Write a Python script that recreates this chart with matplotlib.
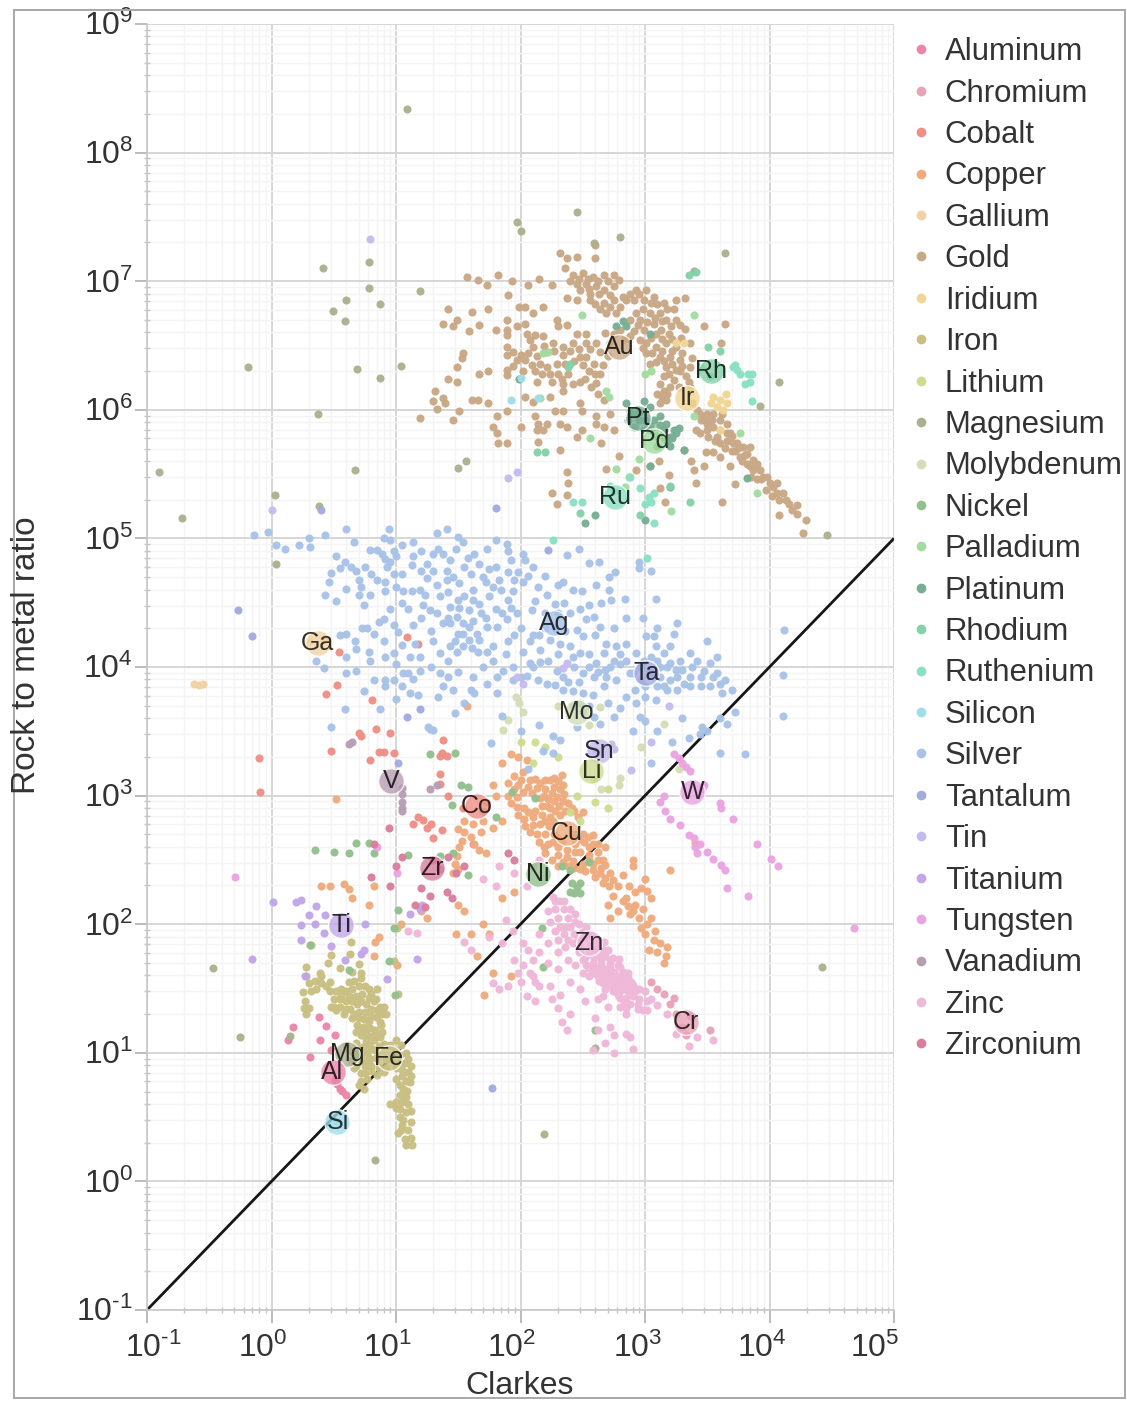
import numpy as np
import matplotlib
matplotlib.use("Agg")
import matplotlib.pyplot as plt
from matplotlib.lines import Line2D
from matplotlib.patches import Rectangle
from matplotlib.ticker import LogLocator, NullFormatter

# All values are log10(Clarkes), log10(rock to metal ratio)
ALUMINUM = [(.38,1.28),(.44,1.21),(.17,1.2),(.13,1.10),(.39,1.10),(.31,.97),(.51,1.14),(.48,1.02),(.51,.79),(.55,.72),(.60,.67),(.53,.76),(.57,.70)]
CHROMIUM = [(3.15,1.46),(3.23,1.43),(3.36,1.29),(3.52,1.18),(3.33,1.14),(3.25,1.30),(3.20,1.38),(3.10,1.50),(3.05,1.55),(3.30,1.20)]
COBALT = [(.54,4.12),(.53,3.86),(.44,3.79),(.81,3.74),(.70,3.49),(.72,3.46),(.84,3.52),(.95,3.49),(.48,3.35),(-.10,3.29),(-.09,3.03),(1.09,4.23),(1.18,4.18),(.79,3.28),(.98,3.33),(.90,3.34),(.86,3.34),(1.35,3.31),(1.38,3.43),(1.22,2.81),(1.25,2.75),(1.37,2.73),(1.30,2.67),(1.35,3.17),(1.35,3.09),(1.41,3.31),(1.37,3.33),(1.54,2.90),(1.18,2.83),(1.14,2.78),(1.28,2.78),(1.42,3.0),(1.62,2.62)]
COPPER = [(1.95,3.15),(2.02,3.18),(2.12,3.13),(2.20,3.12),(2.27,3.14),(2.33,3.16),(1.90,3.10),(1.98,3.08),(2.06,3.07),(2.13,3.06),(2.20,3.05),(2.27,3.07),(2.34,3.08),(1.90,3.00),(1.97,2.99),(2.16,2.98),(2.22,2.97),(2.29,2.99),(2.35,3.01),(1.92,2.94),(1.97,2.91),(2.17,2.92),(2.24,2.90),(2.31,2.92),(2.38,2.94),(2.43,2.88),(2.50,2.87),(1.98,2.85),(2.03,2.82),(2.10,2.83),(2.17,2.85),(2.24,2.83),(2.32,2.85),(2.04,2.76),(2.10,2.77),(2.16,2.78),(2.23,2.76),(2.50,2.70),(2.58,2.69),(2.20,2.70),(2.15,2.64),(2.22,2.62),(2.30,2.60),(2.37,2.58),(2.44,2.62),(2.51,2.64),(2.58,2.62),(2.42,2.70),(2.48,2.56),(2.55,2.54),(2.62,2.56),(2.68,2.60),(2.66,2.50),(2.20,2.55),(2.25,2.50),(2.30,2.54),(2.37,2.52),(2.42,2.49),(2.50,2.47),(2.58,2.47),(2.65,2.44),(2.38,2.45),(2.52,2.41),(2.60,2.37),(2.66,2.32),(2.71,2.30),(2.64,2.40),(1.50,2.74),(1.55,2.72),(1.53,2.65),(1.51,2.60),(1.49,2.53),(1.47,2.47),(1.46,2.40),(1.50,2.43),(1.60,2.68),(1.63,2.62),(1.67,2.58),(1.72,2.55),(1.62,2.78),(1.70,2.80),(1.78,2.75),(1.85,2.80),(1.72,2.95),(1.80,3.0),(1.78,3.08),(1.85,3.25),(1.92,3.32),(1.98,3.30),(2.05,3.28),(.65,2.20),(.62,2.27),(.58,2.31),(.82,2.30),(.78,2.15),(.83,1.86),(.86,1.90),(.82,1.75),(1.01,1.68),(1.20,2.10),(1.25,2.05),(1.50,2.15),(1.55,2.10),(1.48,1.92),(1.60,1.92),(1.70,2.00),(1.75,1.92),(1.65,1.75),(1.71,1.45),(1.78,1.62),(1.92,1.60),(1.85,2.20),(1.95,2.25),(2.70,2.15),(2.72,2.05),(2.78,2.10),(2.78,2.30),(2.85,2.20),(2.82,2.38),(2.90,2.45),(2.87,2.30),(2.92,2.25),(2.97,2.28),(3.02,2.26),(3.05,2.20),(2.92,2.15),(2.88,2.08),(2.95,2.05),(2.97,1.97),(3.02,2.00),(3.05,2.05),(3.07,1.88),(3.12,1.85),(3.03,1.80),(3.15,1.70),(3.18,1.82),(3.20,2.42),(3.40,2.63),(2.90,2.50),(1.04,2.00),(1.57,3.70),(.52,2.97),(.47,2.30),(.40,2.30)]
COPPER_DENSE = [(2.0,3.12),(2.08,3.12),(2.16,3.10),(2.24,3.12),(2.30,3.11),(2.02,3.03),(2.09,3.02),(2.25,3.02),(2.32,3.05),(2.19,3.0),(1.95,3.05),(2.27,2.96),(2.34,2.96),(2.41,2.90),(2.21,2.92),(2.12,2.88),(2.06,2.87),(2.03,2.90),(2.28,2.88),(2.36,2.88),(2.46,2.83),(2.20,2.80),(2.26,2.80),(2.08,2.72),(2.13,2.70),(2.27,2.70),(2.30,2.66),(2.26,2.64),(2.19,2.60),(2.33,2.64),(2.44,2.56),(2.55,2.60),(2.62,2.62),(2.47,2.66),(2.54,2.68),(2.34,2.48),(2.43,2.44),(2.48,2.43),(2.58,2.42),(2.55,2.50),(2.62,2.50),(2.68,2.46),(2.72,2.40),(2.68,2.36),(2.74,2.34),(2.30,2.45),(1.55,2.80),(1.68,2.72),(2.74,2.22),(2.82,2.18),(2.9,2.1),(2.98,2.12),(3.0,1.92),(3.08,1.95),(3.1,1.78),(3.17,1.75),(2.86,2.14),(3.0,2.35)]
GALLIUM = [(-.62,3.87),(-.58,3.86),(-.55,3.87),(.30,4.20),(.42,4.22)]
GOLD = [(2.32,7.22),(2.37,7.18),(2.45,7.19),(2.60,7.28),(2.60,7.18),(2.36,7.10),(2.42,7.05),(2.50,7.06),(2.58,7.03),(2.67,7.05),(2.75,7.05),(2.79,7.01),(2.45,6.98),(2.53,6.98),(2.61,6.96),(2.56,6.90),(2.67,6.93),(2.75,6.96),(2.37,6.87),(2.45,6.85),(2.56,6.85),(2.67,6.83),(2.69,6.75),(2.77,6.75),(2.75,6.85),(2.85,6.85),(2.93,6.93),(3.01,6.93),(2.91,6.85),(2.99,6.85),(3.07,6.88),(3.15,6.83),(3.23,6.78),(3.32,6.87),(3.25,6.85),(2.93,6.75),(3.04,6.75),(3.12,6.75),(3.17,6.70),(3.25,6.70),(2.96,6.70),(2.88,6.70),(3.07,6.67),(2.99,6.62),(2.91,6.61),(3.09,6.59),(3.32,6.63),(3.47,6.65),(3.64,6.67),(3.01,6.52),(3.09,6.49),(3.17,6.52),(3.25,6.49),(3.36,6.52),(2.96,6.54),(2.88,6.57),(3.01,6.44),(3.12,6.41),(3.20,6.41),(3.28,6.39),(3.36,6.33),(3.04,6.36),(3.17,6.33),(3.25,6.31),(3.33,6.26),(3.15,6.26),(3.23,6.23),(3.15,6.15),(3.17,6.08),(3.12,6.05),(3.36,6.18),(3.61,6.52),(1.57,7.03),(1.66,7.01),(1.73,6.97),(1.82,7.05),(1.93,7.0),(2.06,6.97),(2.15,7.02),(2.25,6.97),(1.90,6.89),(1.99,6.80),(2.04,6.80),(2.18,6.80),(2.10,6.75),(1.74,6.78),(1.61,6.76),(1.42,6.78),(1.49,6.70),(1.46,6.65),(1.38,6.67),(1.59,6.61),(1.67,6.66),(1.80,6.62),(1.89,6.70),(1.89,6.62),(1.89,6.58),(1.97,6.65),(2.04,6.67),(2.29,6.70),(2.30,6.65),(2.37,6.66),(2.05,6.59),(2.08,6.54),(2.18,6.57),(2.10,6.49),(1.89,6.49),(1.89,6.43),(1.97,6.39),(2.04,6.39),(2.09,6.35),(2.16,6.36),(2.21,6.33),(2.29,6.36),(2.30,6.28),(1.89,6.31),(1.89,6.27),(1.54,6.44),(1.53,6.40),(1.49,6.33),(1.42,6.24),(1.49,6.22),(1.67,6.28),(1.74,6.30),(1.31,6.15),(1.38,6.09),(1.30,6.07),(1.33,6.01),(1.39,6.05),(1.61,6.08),(1.66,6.08),(1.74,6.05),(1.51,5.99),(1.19,5.94),(1.46,5.92),(1.81,5.95),(1.89,5.99),(2.04,6.10),(2.10,6.06),(2.24,6.10),(2.48,6.22),(2.34,6.20),(2.34,6.15),(2.13,6.22),(2.25,6.22),(2.12,5.95),(2.14,5.89),(2.21,5.89),(2.13,5.84),(2.18,5.84),(2.28,5.99),(2.34,5.99),(2.32,5.89),(2.37,5.87),(2.00,5.87),(1.78,5.87),(1.81,5.82),(1.82,5.74),(1.89,5.74),(2.14,5.75),(2.32,5.69),(2.48,6.05),(2.49,5.99),(2.49,5.84),(2.45,5.79),(2.65,5.74),(2.61,5.95),(2.61,5.89),(2.67,5.87),(2.72,5.97),(2.75,5.84),(2.48,6.41),(2.53,6.41),(2.59,6.36),(2.64,6.28),(2.61,6.21),(2.67,6.08),(2.45,6.59),(2.53,6.59),(2.61,6.52),(2.42,6.52),(2.34,6.49),(2.26,6.52),(2.53,6.52),(2.75,6.59),(2.79,5.64),(2.69,5.54),(2.93,5.53),(3.04,5.56),(3.19,5.49),(3.11,5.60),(2.38,5.43),(2.37,5.52),(2.25,5.35),(2.37,5.34),(2.29,5.27),(3.12,5.39),(3.16,5.28),(3.62,5.28),(4.08,5.18),(4.22,5.19),(4.29,5.14),(4.27,5.04),(3.72,5.42),(3.68,5.56),(3.60,5.63),(3.55,5.67),(3.49,5.67),(3.37,5.60),(3.39,5.53),(3.47,5.56),(3.41,5.43),(3.31,5.69),(3.44,5.97),(3.50,5.97),(3.55,5.97),(3.60,5.92),(3.50,5.89),(3.55,5.87),(3.60,5.84),(3.66,5.89),(3.68,5.82),(3.74,5.74),(3.79,5.71),(3.82,5.66),(3.87,5.61),(3.82,5.58),(3.87,5.53),(3.92,5.53),(3.95,5.48),(4.00,5.43),(4.06,5.43),(4.06,5.35),(4.11,5.35),(4.16,5.27),(4.22,5.26),(3.84,5.71),(3.71,5.74),(3.76,5.63),(3.66,5.76),(3.58,5.79),(3.44,5.82),(3.41,5.84),(3.51,5.79),(3.60,5.74),(3.48,5.92),(3.62,5.97),(3.72,5.68),(3.78,5.60),(3.85,5.48),(3.90,5.46),(3.97,5.38),(4.02,5.33),(3.38,6.05),(3.42,6.00)]
GOLD_DENSE = [(2.40,7.0),(2.47,7.02),(2.54,7.02),(2.62,7.0),(2.70,7.0),(2.48,6.93),(2.55,6.94),(2.63,6.90),(2.72,6.89),(2.60,6.82),(2.64,6.78),(2.72,6.80),(2.80,6.80),(2.82,6.88),(2.88,6.90),(2.95,6.90),(3.05,6.83),(3.10,6.82),(3.18,6.78),(2.98,6.78),(3.08,6.71),(3.14,6.69),(3.21,6.65),(3.28,6.66),(2.94,6.66),(3.02,6.68),(3.13,6.62),(3.19,6.59),(3.05,6.56),(3.14,6.55),(3.22,6.55),(3.29,6.56),(2.98,6.48),(3.06,6.44),(3.14,6.46),(3.22,6.46),(3.30,6.44),(3.09,6.37),(3.15,6.38),(3.22,6.36),(3.30,6.34),(3.38,6.40),(3.19,6.28),(3.28,6.30),(3.35,6.22),(3.12,6.20),(3.20,6.18),(3.27,6.18),(3.10,6.12),(3.18,6.12),(3.14,6.10),(1.94,6.45),(2.00,6.43),(2.06,6.44),(2.13,6.42),(2.20,6.45),(2.27,6.46),(2.34,6.43),(2.40,6.46),(2.47,6.47),(2.56,6.47),(2.64,6.45),(2.70,6.42),(2.50,6.35),(2.43,6.38),(2.36,6.36),(2.55,6.30),(2.60,6.28),(2.66,6.35),(1.94,6.34),(2.02,6.30),(2.12,6.30),(2.17,6.28),(2.24,6.28),(2.38,6.28),(2.33,6.24),(2.42,6.20),(2.52,6.24),(2.57,6.18),(2.62,6.12),(2.19,6.50),(2.12,6.58),(2.72,6.52),(2.68,6.60),(2.80,6.62),(2.84,6.55),(3.45,5.92),(3.54,5.92),(3.66,5.82),(3.70,5.80),(3.75,5.70),(3.80,5.65),(3.84,5.56),(3.90,5.58),(3.93,5.46),(3.98,5.48),(4.03,5.40),(4.08,5.30),(4.13,5.30),(4.18,5.22),(3.5,5.84),(3.56,5.76),(3.64,5.70),(3.70,5.68)]
IRIDIUM = [(3.55,6.10),(3.60,6.08),(3.66,6.05),(3.58,6.02),(3.53,6.05),(3.60,5.84),(3.25,6.52),(3.31,6.52),(3.63,6.00),(3.65,6.12)]
IRON = [(.28,1.60),(.30,1.54),(.25,1.47),(.27,1.40),(.30,1.35),(.35,1.56),(.40,1.60),(.44,1.52),(.47,1.48),(.50,1.42),(.48,1.36),(.52,1.33),(.56,1.50),(.60,1.48),(.65,1.50),(.72,1.58),(.72,1.62),(.68,1.44),(.60,1.40),(.55,1.36),(.58,1.30),(.63,1.34),(.69,1.38),(.73,1.46),(.78,1.43),(.84,1.42),(.87,1.36),(.84,1.28),(.88,1.30),(.80,1.34),(.75,1.32),(.65,1.27),(.69,1.22),(.74,1.20),(.78,1.25),(.83,1.18),(.88,1.22),(.72,1.14),(.76,1.10),(.82,1.10),(.87,1.12),(.72,1.04),(.77,1.00),(.83,1.02),(.60,1.06),(.66,1.00),(.70,.95),(.75,.90),(.68,.90),(.72,.84),(.77,.80),(.70,.75),(.74,.72),(.80,.86),(.86,.88),(.90,.85),(1.00,1.10),(.95,1.06),(1.03,.98),(1.07,.92),(1.10,.85),(1.05,.82),(1.00,.80),(1.11,.77),(1.06,.72),(1.03,.67),(1.08,.66),(.95,.60),(1.00,.57),(1.03,.50),(1.08,.54),(1.12,.55),(1.05,.44),(1.02,.38),(1.07,.33),(1.12,.34),(.32,1.84),(.48,1.76),(.63,1.77),(.45,1.70),(.55,1.66),(.65,1.63),(.28,1.67),(.39,1.62),(.70,1.69),(.98,1.71),(1.02,1.46),(.64,1.86),(1.01,1.97),(.78,.94),(.84,.96),(.92,.95)]
IRON_DENSE = [(.52,1.48),(.56,1.44),(.62,1.55),(.66,1.56),(.70,1.52),(.75,1.52),(.78,1.5),(.80,1.46),(.85,1.50),(.82,1.40),(.90,1.36),(.92,1.30),(.76,1.38),(.72,1.40),(.65,1.40),(.62,1.44),(.55,1.42),(.50,1.36),(.60,1.34),(.70,1.32),(.66,1.30),(.70,1.27),(.74,1.26),(.80,1.29),(.85,1.33),(.87,1.24),(.79,1.19),(.72,1.19),(.68,1.16),(.76,1.15),(.80,1.13),(.84,1.13),(.89,1.16),(.78,1.06),(.74,1.05),(.80,1.04),(.86,1.05),(.90,1.07),(.68,1.08),(.72,.98),(.78,.96),(.74,.94),(.68,.96),(.64,.94),(.62,1.02),(.66,.88),(.72,.78),(.75,.84),(.80,.90),(.85,.83),(.92,.88),(.96,.95),(1.0,1.02),(1.04,1.06),(1.08,1.0),(1.10,.95),(1.12,.90),(1.03,.92),(1.0,.88),(1.05,.87),(1.12,.82),(1.08,.78),(1.03,.75),(1.09,.70),(1.05,.62),(1.0,.62),(1.10,.60),(1.06,.48),(1.12,.46),(1.03,.56),(1.04,.40),(1.10,.40),(1.08,.28),(1.13,.28),(.28,1.30),(.26,1.35),(.32,1.48),(.36,1.50),(.40,1.54),(.47,1.55)]
LITHIUM = [(2.12,3.42),(2.20,3.38),(2.30,3.30),(2.40,2.87),(2.48,2.80),(2.59,3.12),(2.70,3.05),(2.45,3.00),(2.00,3.42),(2.10,3.25),(2.60,2.95),(2.70,2.90)]
MAGNESIUM = [(1.09,8.34),(.41,7.10),(.78,7.15),(.87,6.82),(.60,6.85),(.49,6.77),(.59,6.69),(.78,6.95),(1.19,6.92),(.69,6.32),(.87,6.25),(-.19,6.33),(1.04,6.34),(.37,5.97),(-.90,5.52),(-.72,5.16),(.03,5.34),(.67,5.53),(.38,5.25),(1.97,7.46),(2.0,7.39),(2.45,7.54),(2.59,7.30),(2.80,7.34),(3.64,7.22),(3.39,7.08),(4.08,6.22),(3.92,6.03),(4.46,5.03),(2.19,.37),(2.60,1.04),(.83,.17),(-.25,1.12),(4.42,1.67),(.15,1.13),(-.47,1.66),(1.50,5.55),(1.56,5.60),(.04,4.80)]
MOLYBDENUM = [(1.96,3.77),(2.02,3.65),(1.90,3.59),(1.86,3.51),(2.64,3.69),(2.97,3.38),(3.15,3.56),(3.27,3.21),(2.65,3.05),(2.79,3.08),(2.80,3.14),(2.30,3.70),(2.55,3.55),(1.99,3.72)]
NICKEL = [(.35,2.58),(.50,2.56),(.62,2.55),(.68,2.63),(.78,2.63),(.82,2.55),(1.10,2.54),(1.35,2.53),(1.46,2.55),(1.58,2.38),(1.02,2.11),(.98,1.97),(.94,1.71),(.99,1.45),(.62,1.64),(.31,1.84),(2.33,2.45),(2.40,2.42),(2.45,2.29),(2.41,2.32),(2.48,2.24),(2.43,2.24),(2.17,1.97),(2.18,1.67),(2.60,1.18),(1.45,2.93),(1.58,3.07),(1.52,3.08),(1.27,3.32),(1.47,3.33),(1.93,3.03),(2.12,2.98),(2.45,2.70),(2.55,2.48),(2.48,2.32),(2.40,2.25),(1.70,2.88),(1.80,2.83)]
PALLADIUM = [(2.18,6.44),(2.22,6.45),(2.49,6.74),(2.69,6.15),(2.71,6.10),(2.56,5.78),(3.39,6.74),(3.39,5.95),(3.76,5.82),(3.90,5.35),(3.21,5.21),(3.0,6.28),(2.77,5.54),(2.95,5.62),(3.09,5.87),(2.16,6.09),(2.87,5.48),(2.84,5.40),(3.05,6.30)]
PLATINUM = [(2.85,6.05),(2.91,5.97),(2.99,6.07),(3.04,6.02),(2.91,5.87),(2.99,5.84),(3.12,5.95),(3.17,5.89),(3.23,5.84),(3.20,5.79),(3.25,5.82),(3.15,5.84),(3.07,5.92),(2.77,6.65),(2.85,6.65),(2.82,6.69),(3.04,6.59),(3.31,5.69),(3.82,5.47),(3.04,5.56),(3.20,5.40),(3.0,5.14),(2.60,5.18),(2.52,5.12),(1.99,6.24),(3.18,5.76),(2.95,5.92),(3.09,5.80),(2.88,5.98),(2.95,5.98),(3.0,5.92),(3.04,5.88),(3.05,5.84),(3.12,5.88),(3.15,5.78),(3.22,5.78),(3.27,5.86),(2.86,5.92),(3.10,5.72),(3.2,5.72)]
RHODIUM = [(3.41,7.07),(3.35,7.05),(3.51,6.49),(3.60,6.46),(3.52,6.26),(3.45,6.33),(2.40,6.36),(2.38,6.33),(2.13,5.67),(2.20,5.67),(3.20,5.41),(3.36,5.28),(2.96,5.18),(2.48,5.20)]
RUTHENIUM = [(3.71,6.33),(3.74,6.31),(3.83,6.28),(3.84,6.22),(3.86,6.28),(3.72,6.35),(3.76,6.28),(3.86,6.07),(2.42,5.28),(2.49,5.28),(2.88,5.48),(3.03,5.32),(3.05,5.28),(3.07,5.35),(2.75,5.37),(2.72,5.41),(2.96,5.39),(3.07,5.12),(2.26,4.99),(3.80,6.20),(3.00,5.27),(3.02,4.85)]
SILICON = [(1.92,6.08),(2.14,6.09),(2.00,6.25),(.53,.46)]
SILVER = [(-.14,5.03),(-.03,5.05),(.04,4.95),(.11,4.92),(.22,4.95),(.30,5.0),(.31,4.93),(.43,5.03),(.60,5.07),(.66,4.97),(.94,5.07),(.95,4.99),(.85,4.91),(.79,4.91),(.89,4.88),(.90,5.0),(1.14,4.97),(1.33,5.04),(1.41,5.07),(1.50,5.01),(1.54,4.97),(1.80,4.99),(1.89,4.96),(1.90,4.90),(2.02,4.88),(2.04,4.83),(1.92,4.83),(1.73,4.92),(1.63,4.88),(1.34,4.92),(1.38,4.88),(1.43,4.83),(1.41,4.75),(1.46,4.70),(1.41,4.68),(1.51,4.65),(1.30,4.88),(1.14,4.86),(1.13,4.79),(1.0,4.86),(.95,4.82),(.91,4.84),(.93,4.78),(.52,4.86),(.59,4.82),(.55,4.77),(.64,4.78),(.68,4.75),(.48,4.73),(.46,4.66),(.60,4.61),(.43,4.56),(.52,4.51),(.70,4.56),(.79,4.56),(.74,4.48),(.91,4.66),(.91,4.59),(1.06,4.59),(1.13,4.59),(1.19,4.6),(1.23,4.56),(1.25,4.69),(1.33,4.64),(1.27,4.44),(1.33,4.42),(1.43,4.47),(1.51,4.46),(1.59,4.44),(1.67,4.49),(1.75,4.55),(1.84,4.6),(1.94,4.59),(2.02,4.66),(2.06,4.71),(1.98,4.74),(2.2,4.71),(2.3,4.64),(2.34,4.66),(2.37,4.87),(2.47,4.92),(2.42,4.6),(2.49,4.59),(2.55,4.81),(2.63,4.82),(2.71,4.7),(2.76,4.74),(2.61,4.64),(2.71,4.6),(2.73,4.52),(2.84,4.53),(2.95,4.82),(2.95,4.77),(3.05,4.75),(3.09,4.53),(2.21,4.56),(2.28,4.49),(2.12,4.51),(2.09,4.44),(1.9,4.52),(1.92,4.46),(1.97,4.42),(1.89,4.37),(1.81,4.31),(1.73,4.31),(1.38,4.34),(1.43,4.34),(1.49,4.39),(1.54,4.34),(1.59,4.31),(1.65,4.26),(1.54,4.26),(1.59,4.21),(1.67,4.21),(1.78,4.16),(1.73,4.12),(1.61,4.15),(1.43,4.16),(1.35,4.11),(1.49,4.12),(1.42,4.05),(1.7,4.0),(1.81,3.92),(1.73,3.87),(1.6,3.82),(1.42,3.92),(1.38,3.85),(1.46,3.82),(1.34,3.77),(1.63,3.8),(1.81,3.8),(1.47,3.64),(.6,4.26),(.55,4.25),(.67,4.2),(.68,4.14),(.78,4.12),(.79,4.05),(.86,4.35),(.9,4.37),(.82,4.26),(.9,4.2),(1.02,4.27),(1.14,4.33),(1.05,4.17),(.91,4.08),(.98,4.11),(1.11,4.08),(1.19,4.08),(1,4.02),(1.06,3.95),(1.19,3.97),(1.14,3.91),(1.05,3.85),(1.11,3.8),(1.18,3.78),(.91,3.9),(.91,3.85),(.82,3.9),(.68,3.97),(.36,4.05),(.42,3.99),(.74,3.81),(.59,3.67),(.48,3.53),(.87,3.67),(1.27,3.52),(1.3,3.51),(1.26,3.53),(1.86,3.97),(1.94,4),(2,3.92),(2.08,4.03),(2.16,4.04),(2.21,3.87),(2.29,3.97),(2.34,3.92),(2.43,4),(2.5,3.95),(2.48,4.11),(2.4,4.16),(2.32,4.18),(2.24,4.21),(2.16,4.13),(2.02,4.12),(2.45,4.29),(2.53,4.37),(2.5,4.24),(2.59,4.39),(2.64,4.31),(2.69,4.18),(2.77,4.16),(2.85,4.18),(2.67,4.11),(2.75,4.05),(2.61,4.03),(2.59,3.92),(2.69,3.92),(2.77,3.9),(2.93,4.11),(2.99,4.05),(3.01,4.24),(3.07,4.24),(3.09,4.16),(3.15,4.11),(3.04,3.97),(3.12,3.92),(3.2,3.9),(3.26,3.92),(3.31,3.87),(3.36,3.92),(3.28,4.05),(3.36,4.11),(3.42,4.05),(3.47,3.97),(3.55,3.92),(3.6,3.87),(3.52,4.03),(3.58,4.08),(3.5,4.2),(3.2,4.16),(3.23,4.26),(3.26,4.34),(3.15,3.85),(3.26,3.82),(3.36,3.85),(2.93,3.72),(2.96,3.61),(3,3.58),(3.09,3.74),(2.85,3.77),(2.75,3.61),(2.59,3.61),(2.5,3.65),(2.45,3.53),(2.64,3.56),(2.34,3.82),(2.42,3.81),(2.5,3.8),(2.26,3.46),(2.32,3.43),(2.18,3.35),(2.26,3.33),(2.06,3.21),(1.76,3.41),(3.44,3.48),(3.46,3.53),(3.3,3.6),(3.6,3.6),(3.66,3.56),(3.72,3.65),(3.6,3.33),(3.22,3.42),(3.05,3.25),(4.11,3.94),(4.11,3.62),(3.8,3.32),(4.12,4.29),(.72,4.62),(.98,4.72),(1.05,4.50),(1.22,4.48),(1.70,4.70),(1.62,4.60),(1.80,4.78),(2.10,4.25),(2.2,4.3),(1.95,4.25),(2.68,3.98),(2.55,4.1),(2.8,4.02),(2.9,3.95),(3.0,3.85),(3.12,4.0),(3.2,4.03),(3.45,3.85),(1.3,4.75),(1.55,4.55)]
SILVER_DENSE = [(.98,4.9),(1.05,4.95),(1.2,4.9),(1.25,4.80),(1.48,4.92),(1.58,4.85),(1.67,4.80),(1.75,4.76),(1.83,4.68),(1.9,4.74),(1.95,4.68),(2.1,4.78),(1.55,4.78),(1.6,4.72),(1.72,4.66),(1.78,4.62),(1.42,4.58),(1.5,4.52),(1.62,4.52),(1.68,4.42),(1.8,4.45),(1.85,4.42),(1.72,4.38),(1.62,4.36),(1.5,4.26),(1.47,4.2),(1.54,4.16),(1.66,4.12),(1.78,4.05),(1.88,4.1),(1.9,4.2),(2.0,4.3),(2.08,4.2),(2.15,4.25),(2.28,4.3),(2.36,4.28),(2.3,4.1),(2.42,4.08),(2.22,4.05),(2.1,4.0),(1.94,3.9),(2.05,3.93),(2.14,3.9),(2.28,3.86),(2.38,3.88),(2.47,3.88),(2.55,4.0),(2.62,3.96),(2.72,4.0),(2.8,4.1),(2.85,4.05),(2.88,3.95),(2.95,4.0),(3.05,4.08),(3.1,4.05),(3.18,4.0),(3.25,3.98),(3.3,3.98),(3.38,4.0),(3.45,3.92),(3.52,3.85),(3.58,3.95),(3.64,3.9),(3.62,3.8),(3.7,3.82),(3.1,3.85),(3.18,3.82),(2.96,3.9),(2.92,3.82),(3.0,3.77),(2.67,3.85),(2.58,3.78),(2.7,3.72),(2.8,3.68),(2.55,3.7),(2.48,3.72),(2.42,3.7),(2.75,4.3),(2.85,4.38),(2.98,4.38),(3.1,4.3),(2.6,4.25),(2.55,4.48),(2.65,4.5),(2.48,4.45),(2.4,4.42),(2.3,4.42),(2.2,4.42),(2.35,4.5),(2.14,4.62),(1.05,4.72),(1.0,4.62),(.8,4.72),(.7,4.68),(.75,4.78),(.85,4.68),(1.2,4.75),(1.35,4.55),(1.42,4.38),(1.1,4.45),(.95,4.45),(1.2,4.38),(1.28,4.28),(1.15,4.18),(1.3,4.2),(.98,4.33),(1.35,3.95),(1.5,3.96),(1.28,4.0),(1.62,3.92),(1.55,3.72),(1.85,3.62),(2.0,3.5),(2.15,3.55),(.98,3.9),(1.1,3.95),(1.0,3.75),(.6,3.95),(.73,4.3),(.77,4.3),(.6,4.08),(2.9,3.5),(3.1,3.5),(3.35,3.45),(3.5,3.5)]
TANTALUM = [(2.22,4.91),(1.19,3.67),(1.09,3.61),(-.27,4.44),(-.16,4.24),(1.77,.73),(.40,5.22),(1.8,5.24),(1.02,3.25),(3.05,3.95)]
TIN = [(2.73,3.40),(2.75,3.36),(2.89,3.20),(3.05,3.42),(2.37,4.03),(2.34,3.99),(1.97,3.92),(2.02,3.87),(3.19,3.70),(.79,7.33),(2.61,3.35),(1.90,5.47),(1.97,5.52),(.0,5.22)]
TITANIUM = [(.015,2.17),(.2,2.17),(.24,2.19),(.36,2.14),(.30,2.07),(.43,2.07),(.35,2.0),(.24,1.99),(.42,1.93),(.24,1.88),(.48,1.83),(.72,1.77),(.59,1.72),(.27,1.6),(-.16,1.73),(.93,1.57),(.75,2.0),(1.21,2.15),(1.11,2.08),(1.17,1.73),(.74,1.8),(1.19,2.12)]
TUNGSTEN = [(3.23,3.32),(3.27,3.29),(3.30,3.25),(3.33,3.22),(3.36,3.19),(3.47,3.08),(3.46,3.05),(3.60,2.94),(3.61,2.90),(3.71,2.82),(3.16,2.88),(3.20,2.82),(3.28,2.77),(3.35,2.69),(3.39,2.67),(3.44,2.62),(3.50,2.56),(3.55,2.51),(3.61,2.46),(3.64,2.42),(3.90,2.62),(4.01,2.51),(4.07,2.45),(3.83,2.22),(3.66,2.28),(3.15,3.0),(3.12,2.95),(3.40,2.60),(-.29,2.37),(4.68,1.97),(3.42,2.55),(.85,2.60),(1.01,2.40)]
VANADIUM = [(1.05,3.06),(1.05,3.01),(1.05,2.95),(1.05,2.90),(1.05,2.88),(1.27,3.05),(1.33,3.08),(.62,3.40),(.65,3.42)]
ZINC = [(2.26,2.21),(2.32,2.18),(2.35,2.12),(2.28,2.12),(2.22,2.10),(2.30,2.05),(2.38,2.05),(2.44,2.08),(2.24,2.02),(2.32,1.98),(2.40,1.98),(2.47,2.00),(2.53,1.98),(2.35,1.92),(2.43,1.92),(2.50,1.94),(2.57,1.92),(2.30,1.88),(2.62,1.88),(2.67,1.86),(2.42,1.85),(2.56,1.84),(2.63,1.82),(2.70,1.80),(2.47,1.78),(2.55,1.77),(2.62,1.76),(2.68,1.75),(2.74,1.74),(2.50,1.72),(2.58,1.70),(2.65,1.70),(2.72,1.69),(2.78,1.68),(2.55,1.66),(2.62,1.65),(2.69,1.64),(2.75,1.63),(2.82,1.63),(2.62,1.60),(2.68,1.59),(2.74,1.58),(2.80,1.58),(2.86,1.58),(2.66,1.54),(2.72,1.53),(2.78,1.53),(2.84,1.53),(2.90,1.53),(2.74,1.48),(2.80,1.48),(2.86,1.48),(2.92,1.48),(2.80,1.43),(2.85,1.43),(2.95,1.42),(3.00,1.48),(3.05,1.42),(3.10,1.37),(3.02,1.33),(3.18,1.30),(2.94,1.34),(2.85,1.30),(2.70,1.36),(2.72,1.20),(2.75,1.14),(2.85,1.15),(2.88,1.12),(2.60,1.27),(2.62,1.18),(2.68,1.08),(2.75,1.0),(2.90,1.03),(1.88,2.03),(1.94,1.95),(2.02,1.85),(2.06,1.80),(1.95,1.72),(2.02,1.68),(2.10,1.72),(2.15,1.78),(2.22,1.70),(2.30,1.65),(2.08,1.62),(2.00,1.55),(2.05,1.44),(1.90,1.52),(1.78,1.54),(1.83,1.50),(2.12,1.40),(2.24,1.52),(2.32,1.45),(2.40,1.55),(2.48,1.50),(2.52,1.40),(2.55,1.60),(2.40,1.30),(2.37,1.18),(2.33,1.24),(1.55,1.86),(1.60,1.80),(1.75,1.90),(1.85,1.85),(1.10,1.95),(1.17,1.93),(2.10,2.45),(2.15,2.50),(2.05,2.30),(1.95,2.40),(1.83,2.45),(1.80,2.30),(1.70,2.35),(3.35,1.05),(3.55,1.10),(3.42,1.12),(2.58,1.02),(3.25,1.15)]
ZINC_DENSE = [(2.35,2.18),(2.40,2.12),(2.28,2.18),(2.44,2.02),(2.36,1.98),(2.28,1.95),(2.38,1.88),(2.46,1.88),(2.52,1.90),(2.36,1.82),(2.48,1.82),(2.6,1.80),(2.66,1.80),(2.52,1.74),(2.59,1.74),(2.65,1.73),(2.72,1.72),(2.79,1.73),(2.53,1.68),(2.60,1.66),(2.66,1.66),(2.72,1.66),(2.80,1.67),(2.86,1.62),(2.58,1.62),(2.65,1.62),(2.72,1.61),(2.78,1.60),(2.84,1.60),(2.63,1.56),(2.70,1.56),(2.77,1.56),(2.83,1.56),(2.89,1.55),(2.68,1.50),(2.75,1.50),(2.82,1.50),(2.89,1.50),(2.95,1.50),(2.78,1.45),(2.83,1.40),(2.90,1.44),(2.88,1.38),(2.94,1.38),(2.98,1.33),(3.02,1.40),(2.85,1.35),(2.80,1.36),(2.66,1.44),(2.62,1.42),(2.50,1.62),(2.44,1.68),(2.38,1.72),(2.30,1.78),(2.22,1.85),(2.15,1.92),(2.1,1.60),(1.98,1.62),(2.15,1.52),(2.25,1.42),(2.3,1.35),(2.12,1.55)]
ZIRCONIUM = [(1.20,2.28),(1.27,2.22),(1.15,2.15),(1.23,2.13),(1.05,2.52),(1.00,2.45),(.82,2.62),(.94,2.75),(1.41,2.25),(1.45,2.20),(1.48,2.40),(1.55,2.45),(1.42,2.52),(1.30,2.50),(1.35,2.43),(1.90,2.55),(1.95,2.50),(.80,2.37),(.95,2.30)]

SERIES = {
    "Aluminum": ALUMINUM, "Chromium": CHROMIUM, "Cobalt": COBALT, "Copper": COPPER + COPPER_DENSE,
    "Gallium": GALLIUM, "Gold": GOLD + GOLD_DENSE, "Iridium": IRIDIUM, "Iron": IRON + IRON_DENSE,
    "Lithium": LITHIUM, "Magnesium": MAGNESIUM, "Molybdenum": MOLYBDENUM, "Nickel": NICKEL,
    "Palladium": PALLADIUM, "Platinum": PLATINUM, "Rhodium": RHODIUM, "Ruthenium": RUTHENIUM,
    "Silicon": SILICON, "Silver": SILVER + SILVER_DENSE, "Tantalum": TANTALUM, "Tin": TIN,
    "Titanium": TITANIUM, "Tungsten": TUNGSTEN, "Vanadium": VANADIUM, "Zinc": ZINC + ZINC_DENSE,
    "Zirconium": ZIRCONIUM,
}
COLORS = {
    "Aluminum": "#EC86A8", "Chromium": "#E9A3B8", "Cobalt": "#EF8F86", "Copper": "#EFAB7E",
    "Gallium": "#F0D2A4", "Gold": "#C9A885", "Iridium": "#F2D592", "Iron": "#C9BF83",
    "Lithium": "#CDDD90", "Magnesium": "#ABB190", "Molybdenum": "#D3DEB6", "Nickel": "#93C08E",
    "Palladium": "#A2DCA0", "Platinum": "#78AE94", "Rhodium": "#84D2A8", "Ruthenium": "#8BE0C4",
    "Silicon": "#A0DDEA", "Silver": "#A8C2E8", "Tantalum": "#A2ACDF", "Tin": "#C4BCEE",
    "Titanium": "#C2A6E8", "Tungsten": "#EAA4E2", "Vanadium": "#B89EB4", "Zinc": "#EFB8D8",
    "Zirconium": "#DA7E9E",
}
# symbol: (series, log10 Clarkes, log10 ratio)
LABELS = {
    "Au": ("Gold", 2.79, 6.49), "Rh": ("Rhodium", 3.53, 6.30), "Ir": ("Iridium", 3.34, 6.09),
    "Pt": ("Platinum", 2.94, 5.94), "Pd": ("Palladium", 3.07, 5.76), "Ru": ("Ruthenium", 2.76, 5.32),
    "Ag": ("Silver", 2.27, 4.34), "Ta": ("Tantalum", 3.01, 3.95), "Ga": ("Gallium", 0.37, 4.19),
    "Mo": ("Molybdenum", 2.45, 3.65), "Sn": ("Tin", 2.63, 3.35), "Li": ("Lithium", 2.57, 3.19),
    "V": ("Vanadium", 0.96, 3.11), "W": ("Tungsten", 3.38, 3.03), "Co": ("Cobalt", 1.65, 2.92),
    "Cu": ("Copper", 2.37, 2.71), "Zr": ("Zirconium", 1.29, 2.44), "Ni": ("Nickel", 2.14, 2.39),
    "Ti": ("Titanium", 0.56, 1.99), "Zn": ("Zinc", 2.55, 1.85), "Cr": ("Chromium", 3.33, 1.24),
    "Mg": ("Magnesium", 0.61, 0.99), "Fe": ("Iron", 0.94, 0.96), "Al": ("Aluminum", 0.49, 0.85),
    "Si": ("Silicon", 0.53, 0.46),
}
DIAGONAL = [0.1, 1e5]
X_DECADES = [-1, 0, 1, 2, 3, 4, 5]
Y_DECADES = [-1, 0, 1, 2, 3, 4, 5, 6, 7, 8, 9]
XLABEL_SHIFT = {-1: 6, 0: -9, 1: -8, 2: -9, 3: -7, 4: -8, 5: -19}

plt.rcParams["font.family"] = ["Liberation Sans", "DejaVu Sans"]
plt.rcParams["mathtext.fontset"] = "custom"
plt.rcParams["mathtext.rm"] = "Liberation Sans"
plt.rcParams["mathtext.default"] = "rm"

W, H = 1127, 1404
fig = plt.figure(figsize=(W / 100, H / 100), dpi=100, facecolor="white")
L, R, T, B = 147, 894, 24, 1310
ax = fig.add_axes([L / W, 1 - B / H, (R - L) / W, (B - T) / H])
ax.set_xscale("log"); ax.set_yscale("log")
ax.set_xlim(0.1, 1e5); ax.set_ylim(0.1, 1e9)

fig.add_artist(Rectangle((13.5 / W, 1 - 1398 / H), (1125 - 13.5) / W, (1398 - 9.5) / H,
                         transform=fig.transFigure, fill=False, ec="#A8A8A8", lw=1.4))

sub = np.arange(2, 10) * 1.0
ax.xaxis.set_major_locator(LogLocator(base=10, numticks=10))
ax.yaxis.set_major_locator(LogLocator(base=10, numticks=14))
ax.xaxis.set_minor_locator(LogLocator(base=10, subs=sub, numticks=10))
ax.yaxis.set_minor_locator(LogLocator(base=10, subs=sub, numticks=14))
ax.xaxis.set_minor_formatter(NullFormatter()); ax.yaxis.set_minor_formatter(NullFormatter())
ax.grid(True, which="major", color="#D6D6D6", lw=1.4, zorder=0)
ax.grid(True, which="minor", color="#F4F4F4", lw=1.0, zorder=0)
ax.set_axisbelow(True)
for s in ("top", "right"):
    ax.spines[s].set_visible(False)
for s in ("left", "bottom"):
    ax.spines[s].set_color("#C8C8C8"); ax.spines[s].set_linewidth(1.2)
ax.tick_params(which="major", length=9, width=1.2, color="#B0B0B0", labelbottom=False, labelleft=False)
ax.tick_params(which="minor", length=4, width=1.0, color="#C4C4C4", direction="inout")

ax.plot(DIAGONAL, DIAGONAL, color="#161616", lw=2.0, zorder=2, solid_capstyle="butt")

handles = []
for i, (name, pts) in enumerate(SERIES.items()):
    arr = np.array(pts)
    ax.scatter(10 ** arr[:, 0], 10 ** arr[:, 1], s=34, color=COLORS[name], linewidths=0,
               zorder=3 + i * 0.01, alpha=0.97, clip_on=False)
    handles.append(Line2D([], [], ls="", marker="o", ms=6, color=COLORS[name], label=name))

for sym, (name, lx, ly) in LABELS.items():
    ax.scatter([10 ** lx], [10 ** ly], s=340, color=COLORS[name], edgecolors="white",
               linewidths=1.0, alpha=0.8, zorder=5)
for sym, (name, lx, ly) in LABELS.items():
    dark = tuple(0.22 * np.array(matplotlib.colors.to_rgb(COLORS[name])))
    ax.text(10 ** lx, 10 ** ly, sym, fontsize=18, color=dark, ha="center", va="center", zorder=6)


def decade(d):
    exponent = r"\text{-}1" if d < 0 else str(d)
    return rf"$\mathdefault{{10^{{{exponent}}}}}$"


for d in X_DECADES:
    ax.annotate(decade(d), (10.0 ** d, 0.1), xycoords="data",
                xytext=(XLABEL_SHIFT[d] * 0.72, -16), textcoords="offset points",
                ha="center", va="top", fontsize=23, color="#333333")
for d in Y_DECADES:
    ax.annotate(decade(d), (0.1, 10.0 ** d), xycoords="data",
                xytext=(-10, -2), textcoords="offset points",
                ha="right", va="center", fontsize=23, color="#333333")

fig.text(520 / W, 1 - 1386 / H, "Clarkes", fontsize=23, ha="center", va="center", color="#333333")
fig.text(27 / W, 1 - 655 / H, "Rock to metal ratio", fontsize=24, rotation=90,
         ha="center", va="center", color="#333333")

leg = fig.legend(handles=handles, loc="upper left", bbox_to_anchor=(895 / W, 1 - 31 / H),
                 frameon=False, fontsize=22.4, labelspacing=0.367, handletextpad=0.1,
                 handlelength=1.3, borderaxespad=0, borderpad=0.2, labelcolor="#333333")

fig.savefig("out.png", dpi=100)
